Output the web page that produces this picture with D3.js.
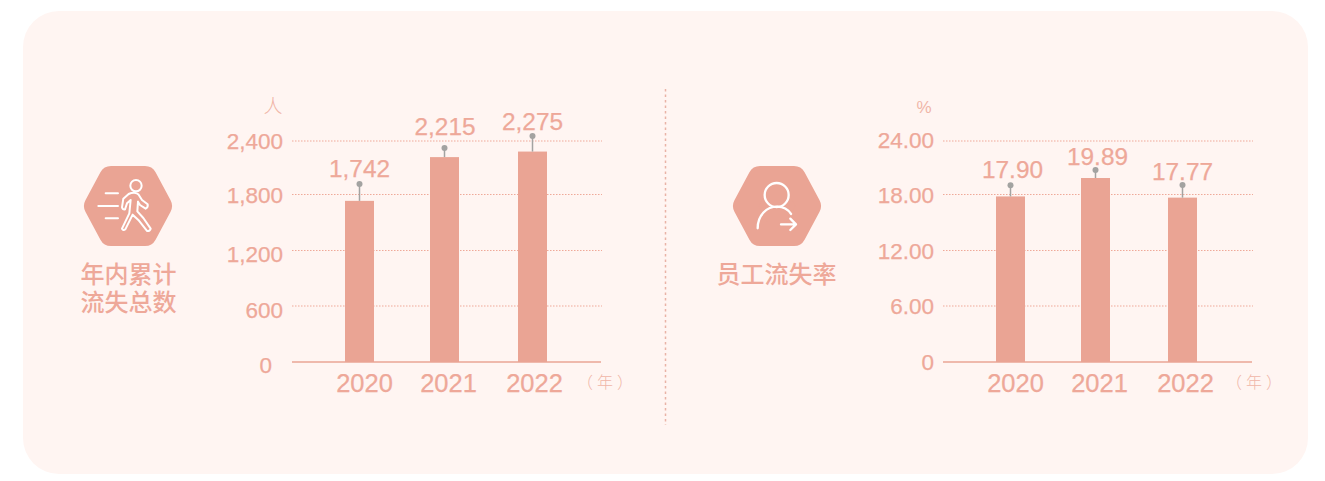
<!DOCTYPE html>
<html><head><meta charset="utf-8">
<script src="https://cdn.jsdelivr.net/npm/d3@7/dist/d3.min.js"></script>
<style>html,body{margin:0;padding:0;background:#fff}svg{display:block}
text{font-family:"Liberation Sans",Arial,sans-serif}</style></head><body>
<svg id="c" width="1325" height="481"></svg>
<script>
const years = ["2020","2021","2022"];
const leaversValues = [1742,2215,2275];
const leaversWhiskerTops = [1924,2313,2443];
const leaversTicks = [0,600,1200,1800,2400];
const leaversLabels = ["1,742","2,215","2,275"];
const rateValues = [17.90,19.89,17.77];
const rateWhiskerTops = [19.1,20.76,19.14];
const rateTicks = [0,6,12,18,24];
const rateLabels = ["17.90","19.89","17.77"];

const BG="#FFF5F2", BAR="#EAA494", TXT="#EEA899", SOFT="#F0B5A8", GREY="#A3A3A1";
const svg=d3.select("#c");
svg.append("rect").attr("x",23).attr("y",11).attr("width",1285).attr("height",463).attr("rx",36).attr("fill",BG);
svg.append("line").attr("x1",665.5).attr("x2",665.5).attr("y1",89).attr("y2",425)
  .attr("stroke","#E9B3A6").attr("stroke-width",1.5).attr("stroke-dasharray","2.5 3");

function chart(o){
  const g=svg.append("g");
  const y=d3.scaleLinear().domain([0,o.ticks[4]]).range([362,140]);
  const grid=d3.scaleLinear().domain(o.ticks).range([362,305.5,250,194,140.5]);
  const x=d3.scaleOrdinal().domain(years).range(o.centers);
  const xl=d3.scaleOrdinal().domain(years).range(o.labelCenters);

  const ax=g.append("g").attr("transform",`translate(${o.left},0)`)
    .call(d3.axisLeft(grid).tickValues(o.ticks).tickSize(0).tickPadding(9).tickFormat(o.fmt));
  ax.select(".domain").remove();
  ax.attr("font-family",null);
  ax.selectAll("text").attr("fill",TXT).attr("font-size",o.tickSize)
    .attr("stroke",TXT).attr("stroke-width",.25)
    .attr("dy",(d,i)=>o.tickDy[i]).attr("dx",d=>d===0?o.zeroDx:0);
  g.selectAll(".gl").data(o.ticks.slice(1)).join("line")
    .attr("x1",o.left).attr("x2",o.left+310).attr("y1",d=>grid(d)+.5).attr("y2",d=>grid(d)+.5)
    .attr("stroke","#EFA999").attr("stroke-width",1).attr("stroke-dasharray","1.5 1.5");

  g.selectAll(".bar").data(o.values).join("rect")
    .attr("x",(d,i)=>x(years[i])-14.5).attr("width",29)
    .attr("y",d=>y(d)).attr("height",d=>y(0)-y(d)).attr("fill",BAR);
  g.append("line").attr("x1",o.left).attr("x2",o.left+309).attr("y1",362).attr("y2",362)
    .attr("stroke",BAR).attr("stroke-width",1.5);

  g.selectAll(".wh").data(o.values).join("line")
    .attr("x1",(d,i)=>x(years[i])).attr("x2",(d,i)=>x(years[i]))
    .attr("y1",d=>y(d)).attr("y2",(d,i)=>y(o.tops[i]))
    .attr("stroke",GREY).attr("stroke-width",1.5);
  g.selectAll(".dot").data(o.tops).join("circle")
    .attr("cx",(d,i)=>x(years[i])).attr("cy",d=>y(d)).attr("r",3).attr("fill",GREY);

  g.selectAll(".val").data(o.labels).join("text")
    .attr("x",(d,i)=>x(years[i])+o.valDx[i]).attr("y",(d,i)=>y(o.tops[i])+o.valDy[i])
    .attr("text-anchor","middle").attr("font-size",24.4).attr("fill",TXT)
    .attr("stroke",TXT).attr("stroke-width",.25).text(d=>d);

  g.selectAll(".yr").data(years).join("text")
    .attr("x",d=>xl(d)).attr("y",391.5).attr("text-anchor","middle")
    .attr("font-size",25.5).attr("fill",TXT).attr("stroke",TXT).attr("stroke-width",.25).text(d=>d);

  g.append("text").attr("x",o.unitX).attr("y",113).attr("text-anchor","middle")
    .attr("font-size",o.unitSize).attr("font-weight",300).attr("fill",SOFT)
    .style("font-family",o.unit==="%"?"Liberation Sans":"Noto Sans CJK SC").text(o.unit);
  g.selectAll(".yu").data(["（","年","）"]).join("text")
    .attr("x",(d,i)=>o.yearX+[-20,0,20][i]).attr("y",388).attr("text-anchor","middle")
    .attr("font-size",16).attr("font-weight",300).attr("fill",SOFT)
    .style("font-family","Noto Sans CJK SC").text(d=>d);
}

chart({values:leaversValues,tops:leaversWhiskerTops,ticks:leaversTicks,labels:leaversLabels,
  fmt:d3.format(","),left:292,tickSize:22.5,zeroDx:-11,
  tickDy:[10,11.5,11,8,8],
  centers:[359.5,444.5,532.5],labelCenters:[364.5,448.5,534.5],
  valDx:[0,.5,0],valDy:[-7,-13,-6],unit:"人",unitX:273,unitSize:19,yearX:605});
chart({values:rateValues,tops:rateWhiskerTops,ticks:rateTicks,labels:rateLabels,
  fmt:d=>d===0?"0":d3.format(".2f")(d),left:943,tickSize:22.5,zeroDx:0,
  tickDy:[7.5,8,8.5,8.5,7],
  centers:[1010.5,1095.5,1182.5],labelCenters:[1015.5,1099.5,1185.5],
  valDx:[2,2,0],valDy:[-7,-5,-5],unit:"%",unitX:924,unitSize:17,yearX:1254});

function hexagon(cx,cy){
  const r=12, top=28, e=32;
  const pts=[[-e,0],[-e/2-1,-top],[e/2+1,-top],[e,0],[e/2+1,top],[-e/2-1,top]];
  svg.append("path").attr("d",d3.line()(pts.map(p=>[cx+p[0],cy+p[1]]))+"Z")
    .attr("fill",BAR).attr("stroke",BAR).attr("stroke-width",r*2).attr("stroke-linejoin","round");
}
hexagon(128,206); hexagon(777,206);

const i1=svg.append("g").attr("transform","translate(60,150) scale(0.3333)")
  .attr("fill","none").attr("stroke","#fff").attr("stroke-width",6).attr("stroke-linecap","round").attr("stroke-linejoin","round");
i1.append("circle").attr("cx",228).attr("cy",107).attr("r",17);
i1.append("path").attr("d","M137 130H174M115 168H174M137 205H174");
i1.append("path").attr("d","M206 132 C216 127 230 126 236 134 L246 150 L263 163 Q265 172 257 176 L240 165 L234 155 L232 184 L250 204 L272 236 Q270 244 261 243 L235 210 L218 194 L196 238 Q190 243 186 236 L208 190 L212 150 L201 160 L195 178 Q188 180 186 172 L190 146 Z");

const i2=svg.append("g").attr("transform","translate(700,150) scale(0.3333)")
  .attr("fill","none").attr("stroke","#fff").attr("stroke-width",7).attr("stroke-linecap","round").attr("stroke-linejoin","round");
i2.append("circle").attr("cx",230).attr("cy",135).attr("r",36);
i2.append("path").attr("d","M173 235 C173 195 200 170 232 170 C250 170 264 178 273 192");
i2.append("path").attr("d","M243 223H287M271 206L288 223L271 240");

function title(t,cx,y){
  svg.append("text").attr("x",cx).attr("y",y).attr("text-anchor","middle").attr("font-size",24)
    .attr("font-weight",500).attr("fill",TXT).style("font-family","Noto Sans CJK SC").text(t);
}
title("年内累计",128.5,283); title("流失总数",128.5,311); title("员工流失率",776.5,283);
</script></body></html>
